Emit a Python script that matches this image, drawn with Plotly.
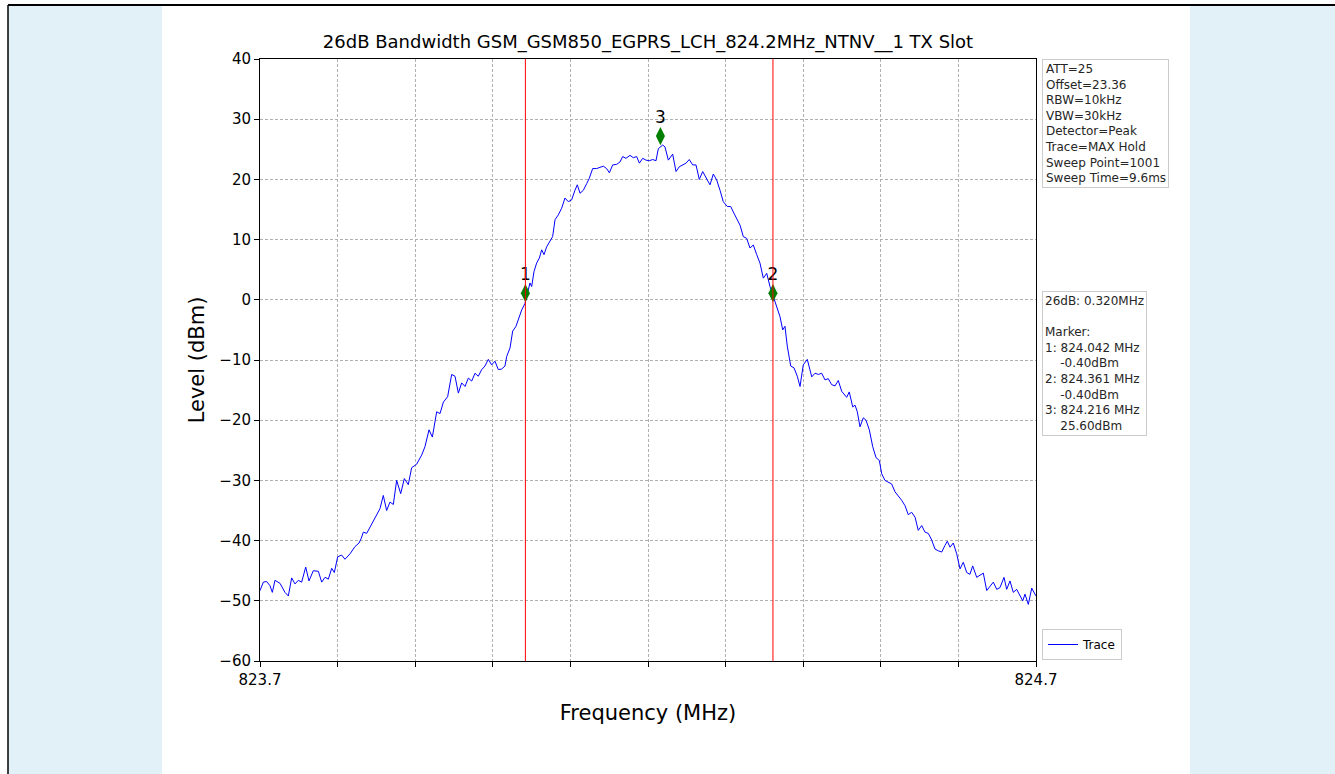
import plotly.graph_objects as go

# ---------------- data ----------------
freq = [
    823.7000, 823.7043, 823.7086, 823.7129, 823.7159, 823.7193, 823.7258, 823.7322, 823.7365, 823.7408,
    823.7451, 823.7494, 823.7537, 823.7589, 823.7631, 823.7687, 823.7752, 823.7795, 823.7838, 823.7881,
    823.7924, 823.7958, 823.8001, 823.8052, 823.8095, 823.8160, 823.8224, 823.8276, 823.8302, 823.8332,
    823.8375, 823.8418, 823.8460, 823.8503, 823.8546, 823.8589, 823.8632, 823.8675, 823.8718, 823.8761,
    823.8813, 823.8860, 823.8911, 823.8954, 823.9019, 823.9083, 823.9126, 823.9178, 823.9221, 823.9277,
    823.9320, 823.9363, 823.9418, 823.9470, 823.9513, 823.9556, 823.9599, 823.9642, 823.9685, 823.9728,
    823.9771, 823.9813, 823.9857, 823.9899, 823.9942, 823.9985, 824.0028, 824.0071, 824.0114, 824.0157,
    824.0179, 824.0222, 824.0256, 824.0299, 824.0329, 824.0372, 824.0415, 824.0445, 824.0479, 824.0501,
    824.0531, 824.0565, 824.0599, 824.0630, 824.0660, 824.0694, 824.0737, 824.0771, 824.0802, 824.0844,
    824.0887, 824.0930, 824.0973, 824.1016, 824.1059, 824.1089, 824.1124, 824.1167, 824.1210, 824.1244,
    824.1287, 824.1339, 824.1381, 824.1424, 824.1467, 824.1502, 824.1545, 824.1597, 824.1639, 824.1674,
    824.1716, 824.1768, 824.1811, 824.1854, 824.1889, 824.1932, 824.1974, 824.2017, 824.2061, 824.2103,
    824.2133, 824.2155, 824.2189, 824.2219, 824.2262, 824.2318, 824.2361, 824.2403, 824.2447, 824.2490,
    824.2532, 824.2576, 824.2619, 824.2661, 824.2705, 824.2747, 824.2799, 824.2842, 824.2885, 824.2928,
    824.2970, 824.3022, 824.3066, 824.3099, 824.3143, 824.3186, 824.3228, 824.3272, 824.3314, 824.3357,
    824.3401, 824.3443, 824.3486, 824.3530, 824.3572, 824.3615, 824.3659, 824.3701, 824.3736, 824.3765,
    824.3795, 824.3839, 824.3881, 824.3924, 824.3959, 824.4001, 824.4053, 824.4110, 824.4152, 824.4195,
    824.4238, 824.4281, 824.4323, 824.4367, 824.4410, 824.4452, 824.4496, 824.4560, 824.4594, 824.4638,
    824.4668, 824.4697, 824.4732, 824.4775, 824.4809, 824.4852, 824.4896, 824.4938, 824.4981, 824.5012,
    824.5054, 824.5097, 824.5140, 824.5183, 824.5225, 824.5269, 824.5312, 824.5354, 824.5398, 824.5441,
    824.5483, 824.5527, 824.5570, 824.5612, 824.5656, 824.5698, 824.5741, 824.5785, 824.5827, 824.5857,
    824.5892, 824.5934, 824.5978, 824.6021, 824.6063, 824.6107, 824.6149, 824.6184, 824.6236, 824.6278,
    824.6321, 824.6365, 824.6407, 824.6450, 824.6494, 824.6536, 824.6588, 824.6622, 824.6665, 824.6707,
    824.6751, 824.6794, 824.6829, 824.6858, 824.6901, 824.6945, 824.6987, 824.7000,
]
level = [
    -48.3, -46.9, -46.8, -47.5, -48.6, -46.6, -47.1, -48.6, -49.2, -46.2,
    -47.2, -46.6, -46.9, -44.4, -46.7, -45.0, -45.1, -46.9, -46.1, -46.4,
    -44.6, -45.3, -42.7, -42.4, -43.1, -42.2, -41.0, -40.4, -39.7, -38.6,
    -38.8, -37.8, -36.9, -35.8, -34.7, -32.5, -35.0, -33.6, -34.0, -30.0,
    -32.2, -29.7, -30.7, -27.9, -27.3, -25.8, -24.4, -21.6, -22.8, -18.6,
    -18.9, -17.0, -16.1, -12.4, -12.7, -15.5, -13.8, -14.4, -13.0, -13.5,
    -12.2, -12.7, -11.6, -11.0, -9.9, -10.8, -10.2, -11.6, -11.5, -11.0,
    -9.4, -8.0, -5.2, -4.4, -3.3, -1.7, -0.6, 1.1, 2.8, 2.2,
    4.7, 6.1, 6.9, 8.3, 7.5, 8.8, 9.9, 10.5, 13.3, 14.1,
    15.2, 16.9, 16.3, 16.6, 18.2, 19.1, 17.7, 18.2, 19.3, 20.2,
    21.8, 21.8, 22.0, 22.2, 21.8, 21.1, 22.4, 22.5, 22.9, 23.8,
    23.5, 24.0, 23.6, 23.8, 22.7, 23.5, 23.2, 23.1, 23.3, 23.1,
    25.1, 25.4, 25.7, 25.4, 23.2, 24.2, 21.3, 22.1, 22.4, 22.7,
    23.3, 22.4, 22.4, 20.0, 21.3, 20.4, 19.1, 20.9, 19.9, 18.2,
    16.3, 15.5, 15.5, 14.6, 13.5, 12.4, 10.5, 10.2, 8.6, 9.1,
    7.5, 6.1, 3.6, 4.4, 2.2, 0.6, -1.4, -2.8, -5.0, -4.4,
    -7.7, -11.0, -11.3, -12.7, -14.4, -10.8, -9.9, -12.8, -12.2, -12.4,
    -12.2, -13.3, -13.1, -14.1, -14.3, -13.4, -15.2, -16.2, -15.3, -17.8,
    -17.5, -18.6, -21.1, -19.6, -20.0, -21.6, -24.4, -26.2, -26.7, -28.9,
    -30.0, -30.3, -30.6, -31.9, -32.5, -33.3, -34.2, -35.7, -35.3, -36.1,
    -38.3, -37.5, -38.6, -38.8, -39.9, -41.4, -41.7, -41.9, -40.8, -40.1,
    -41.1, -40.4, -42.2, -44.7, -43.6, -45.3, -45.6, -44.2, -46.1, -45.8,
    -45.4, -48.3, -47.7, -46.9, -48.1, -47.8, -46.1, -48.1, -46.7, -48.6,
    -48.1, -49.2, -50.0, -48.9, -50.6, -47.9, -48.9, -49.2,
]

marker_labels = ["1", "2", "3"]
marker_freq = [824.042, 824.361, 824.216]
marker_plot_level = [1.1, 1.1, 27.2]
band_edges = [824.042, 824.361]

x_tick_vals = [823.7, 823.8, 823.9, 824.0, 824.1, 824.2, 824.3, 824.4, 824.5, 824.6, 824.7]
x_tick_text = ["823.7", "", "", "", "", "", "", "", "", "", "824.7"]
y_tick_vals = [-60, -50, -40, -30, -20, -10, 0, 10, 20, 30, 40]
y_tick_text = ["\u221260", "\u221250", "\u221240", "\u221230", "\u221220", "\u221210",
               "0", "10", "20", "30", "40"]

title_text = "26dB Bandwidth GSM_GSM850_EGPRS_LCH_824.2MHz_NTNV__1 TX Slot"
settings_lines = ["ATT=25", "Offset=23.36", "RBW=10kHz", "VBW=30kHz", "Detector=Peak",
                  "Trace=MAX Hold", "Sweep Point=1001", "Sweep Time=9.6ms"]
ind = "\u00a0" * 4
result_lines = ["26dB: 0.320MHz", "", "Marker:",
                "1: 824.042 MHz", ind + "-0.40dBm",
                "2: 824.361 MHz", ind + "-0.40dBm",
                "3: 824.216 MHz", ind + "25.60dBm"]

# ---------------- layout geometry ----------------
W, H = 1335, 774
L, R, T, B = 260, 1036, 59, 661
PW, PH = R - L, B - T

def px(xp):
    return (xp - L) / PW

def py(yp):
    return (B - yp) / PH

FONT = "DejaVu Sans"

fig = go.Figure()
fig.add_trace(go.Scatter(x=freq, y=level, mode="lines", name="Trace",
                         line=dict(color="#0000ff", width=1)))
fig.add_trace(go.Scatter(x=marker_freq, y=marker_plot_level, mode="markers+text",
                         text=marker_labels, textposition="top center",
                         textfont=dict(family=FONT, size=17, color="black"),
                         marker=dict(symbol="diamond-tall", size=13, color="#008000"),
                         showlegend=False, cliponaxis=False))

shapes = []
# side panels
shapes.append(dict(type="rect", xref="paper", yref="paper", x0=px(8), x1=px(162), y0=py(774), y1=py(4),
                   fillcolor="#e2f0f8", line=dict(width=0), layer="below"))
shapes.append(dict(type="rect", xref="paper", yref="paper", x0=px(1190), x1=px(1335), y0=py(774), y1=py(4),
                   fillcolor="#e2f0f8", line=dict(width=0), layer="below"))
# frame lines
shapes.append(dict(type="line", xref="paper", yref="paper", x0=px(8), x1=px(1335), y0=py(5), y1=py(5),
                   line=dict(color="black", width=2)))
shapes.append(dict(type="line", xref="paper", yref="paper", x0=px(8), x1=px(8), y0=py(774), y1=py(5),
                   line=dict(color="black", width=1.5)))
for xe in band_edges:
    shapes.append(dict(type="line", xref="x", yref="paper", x0=xe, x1=xe, y0=0, y1=1,
                       line=dict(color="red", width=1)))

annotations = [
    dict(xref="paper", yref="paper", x=px(1042), y=py(59), xanchor="left", yanchor="top",
         text="<br>".join(settings_lines), showarrow=False, align="left",
         font=dict(family=FONT, size=12, color="#262626"),
         bordercolor="#cccccc", borderwidth=1, borderpad=2, bgcolor="white"),
    dict(xref="paper", yref="paper", x=px(1042), y=py(291), xanchor="left", yanchor="top",
         text="<br>".join(result_lines), showarrow=False, align="left",
         font=dict(family=FONT, size=12, color="#262626"),
         bordercolor="#cccccc", borderwidth=1, borderpad=2, bgcolor="white"),
]

axis_common = dict(showline=True, linecolor="black", linewidth=1, mirror=True,
                   ticks="outside", ticklen=5, tickcolor="black", tickwidth=1,
                   showgrid=True, gridcolor="#b0b0b0", griddash="3px,2px", gridwidth=0.8,
                   zeroline=False, tickfont=dict(family=FONT, size=15, color="black"))

fig.update_layout(
    width=W, height=H, autosize=False,
    margin=dict(l=L, r=W - R, t=T, b=H - B),
    paper_bgcolor="white", plot_bgcolor="white",
    title=dict(text=title_text, x=0.5, xref="paper", xanchor="center",
               y=1 - 42 / H, yref="container", yanchor="middle",
               font=dict(family=FONT, size=18, color="black")),
    xaxis=dict(range=[823.7, 824.7], tickmode="array", tickvals=x_tick_vals, ticktext=x_tick_text,
               title=dict(text="Frequency (MHz)", font=dict(family=FONT, size=21, color="black"), standoff=17),
               **axis_common),
    yaxis=dict(range=[-60, 40], tickmode="array", tickvals=y_tick_vals, ticktext=y_tick_text,
               title=dict(text="Level (dBm)", font=dict(family=FONT, size=21, color="black"), standoff=8),
               **axis_common),
    legend=dict(x=px(1042), y=py(660), xanchor="left", yanchor="bottom",
                bordercolor="#cccccc", borderwidth=1, bgcolor="white",
                font=dict(family=FONT, size=12, color="black")),
    showlegend=True,
    shapes=shapes, annotations=annotations,
)

# remove the browser's default 8px body margin so the figure sits at the page origin
fig.write_html("out.html",
               config={"displayModeBar": False},
               post_script="document.body.style.margin='0';document.body.style.overflow='hidden';")
